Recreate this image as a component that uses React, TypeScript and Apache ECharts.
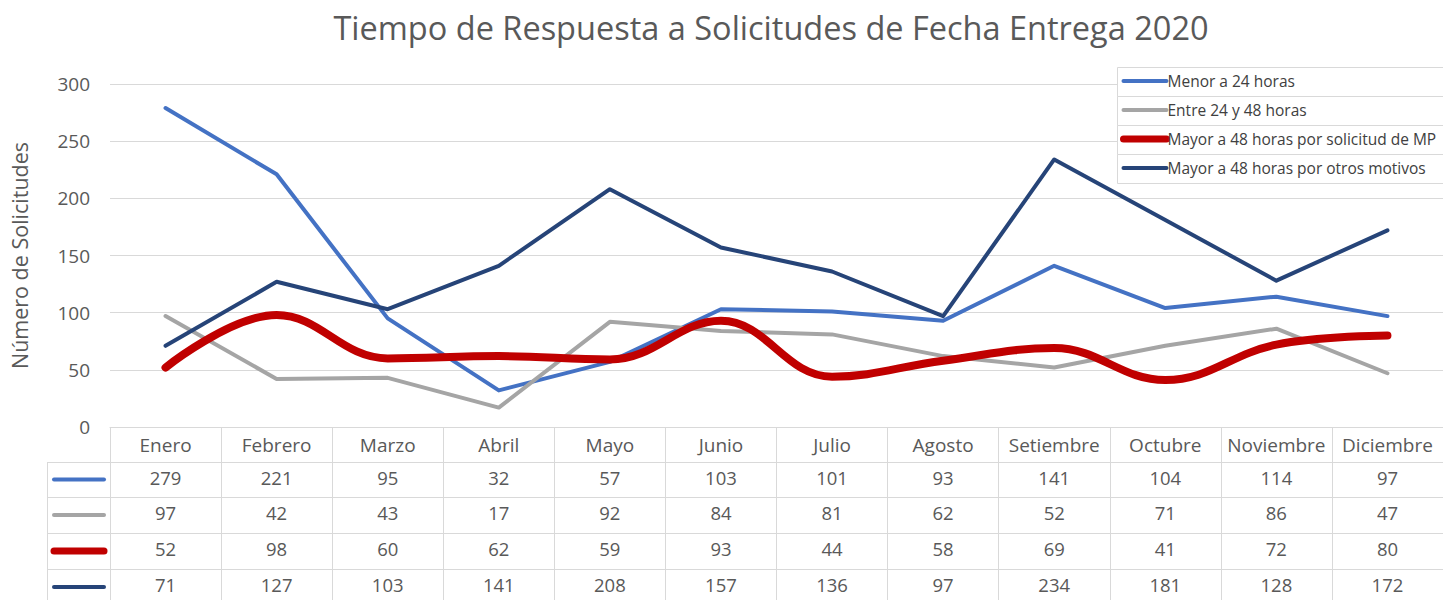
import React, { useEffect, useRef } from "react";
import * as echarts from "echarts";

const categories = ["Enero", "Febrero", "Marzo", "Abril", "Mayo", "Junio", "Julio", "Agosto", "Setiembre", "Octubre", "Noviembre", "Diciembre"];
const seriesNames = [
  "Menor a 24 horas",
  "Entre 24 y 48 horas",
  "Mayor a 48 horas por solicitud de MP",
  "Mayor a 48 horas por otros motivos",
];
const menor24 = [279, 221, 95, 32, 57, 103, 101, 93, 141, 104, 114, 97];
const entre24y48 = [97, 42, 43, 17, 92, 84, 81, 62, 52, 71, 86, 47];
const mayor48MP = [52, 98, 60, 62, 59, 93, 44, 58, 69, 41, 72, 80];
const mayor48Otros = [71, 127, 103, 141, 208, 157, 136, 97, 234, 181, 128, 172];
const yTicks = { min: 0, max: 300, interval: 50 };
const titleText = "Tiempo de Respuesta a Solicitudes de Fecha Entrega 2020";
const yName = "Número de Solicitudes";

const colors = ["#4472C4", "#A5A5A5", "#C00000", "#264478"];
const widths = [4, 4, 8, 4];
const legendWidths = [4, 4, 7, 4];
const FONT = "'Open Sans', sans-serif";
const TXT = "#595959";
const GRID = "#d9d9d9";

export default function App() {
  const ref = useRef<HTMLDivElement>(null);
  useEffect(() => {
    if (!ref.current) return;
    const chart = echarts.init(ref.current, undefined, { renderer: "svg" });
    const rows = [menor24, entre24y48, mayor48MP, mayor48Otros];
    const rowOffsets = [35, 70, 106, 142];
    const rowH = [35, 36, 36, 36];
    const gridLeft = 110;
    const axisY = 427;

    const xAxes: any[] = [
      {
        type: "category",
        data: categories,
        position: "bottom",
        gridIndex: 0,
        boundaryGap: true,
        axisLine: { show: true, lineStyle: { color: GRID, width: 1 } },
        axisTick: { show: true, interval: 0, length: 35, lineStyle: { color: GRID } },
        axisLabel: { interval: 0, color: TXT, fontFamily: FONT, fontSize: 19, margin: 8, verticalAlign: "top" },
      },
    ];
    rows.forEach((row, i) => {
      xAxes.push({
        type: "category",
        data: categories,
        position: "bottom",
        offset: rowOffsets[i],
        gridIndex: 0,
        boundaryGap: true,
        axisLine: { show: true, lineStyle: { color: GRID, width: 1 } },
        axisTick: { show: true, interval: 0, length: rowH[i], lineStyle: { color: GRID } },
        axisLabel: {
          interval: 0,
          color: TXT,
          fontFamily: FONT,
          fontSize: 18.5,
          margin: 6,
          verticalAlign: "top",
          formatter: (_v: string, idx: number) => String(row[idx]),
        },
      });
    });

    const graphics: any[] = [];
    // legend boxes
    for (let i = 0; i < 4; i++) {
      graphics.push({
        type: "rect",
        z: 3,
        shape: { x: 1117.5, y: 67.5 + 29 * i, width: 340, height: 29 },
        style: { fill: "#ffffff", stroke: GRID, lineWidth: 1 },
      });
    }
    // table key column
    const lineYs = [axisY + 35, axisY + 70, axisY + 106, axisY + 142];
    lineYs.forEach((y, i) => {
      graphics.push({
        type: "line",
        shape: { x1: 47, y1: y + 0.5, x2: gridLeft, y2: y + 0.5 },
        style: { stroke: GRID, lineWidth: 1 },
      });
      const cy = y + rowH[i] / 2;
      graphics.push({
        type: "line",
        shape: { x1: 54, y1: cy, x2: 104, y2: cy },
        style: { stroke: colors[i], lineWidth: i === 2 ? 7 : 4, lineCap: "round" },
      });
    });
    graphics.push({
      type: "line",
      shape: { x1: 47.5, y1: axisY + 35, x2: 47.5, y2: 600 },
      style: { stroke: GRID, lineWidth: 1 },
    });

    const data = [menor24, entre24y48, mayor48MP, mayor48Otros];
    chart.setOption({
      animation: false,
      backgroundColor: "#ffffff",
      title: {
        text: titleText,
        left: 766,
        top: 6,
        textAlign: "center",
        textStyle: { color: TXT, fontFamily: FONT, fontSize: 32.5, fontWeight: "normal" },
      },
      legend: {
        orient: "vertical",
        left: 1120,
        top: 73,
        padding: 0,
        itemWidth: 43,
        itemHeight: 14,
        itemGap: 13,
        z: 10,
        itemStyle: { opacity: 0 },
        textStyle: { color: "#404040", fontFamily: FONT, fontSize: 15.5, lineHeight: 14, padding: [0, 0, 0, -4] },
        data: seriesNames.map((n, i) => ({
          name: n,
          lineStyle: { width: legendWidths[i], color: colors[i], cap: "round" },
        })),
      },
      grid: {
        left: gridLeft,
        right: 0,
        top: 84,
        bottom: 600 - axisY,
        containLabel: false,
        outerBoundsMode: "none",
      },
      xAxis: xAxes,
      yAxis: {
        type: "value",
        min: yTicks.min,
        max: yTicks.max,
        interval: yTicks.interval,
        name: yName,
        nameLocation: "middle",
        nameRotate: 90,
        nameGap: 80,
        nameTextStyle: { color: TXT, fontFamily: FONT, fontSize: 21.5 },
        axisLine: { show: false },
        axisTick: { show: false },
        axisLabel: { color: TXT, fontFamily: FONT, fontSize: 19, margin: 20 },
        splitLine: { lineStyle: { color: GRID, width: 1 } },
      },
      series: data.map((d, i) => ({
        name: seriesNames[i],
        type: "line",
        data: d,
        xAxisIndex: 0,
        symbol: "none",
        smooth: i === 2 ? 0.4 : false,
        lineStyle: { color: colors[i], width: widths[i], cap: "round", join: "round" },
        itemStyle: { color: colors[i] },
        z: 2,
      })),
      graphic: graphics,
    });
    return () => chart.dispose();
  }, []);
  return (
    <div
      ref={ref}
      style={{ position: "fixed", left: 0, top: 0, width: 1443, height: 600, background: "#fff" }}
    />
  );
}
